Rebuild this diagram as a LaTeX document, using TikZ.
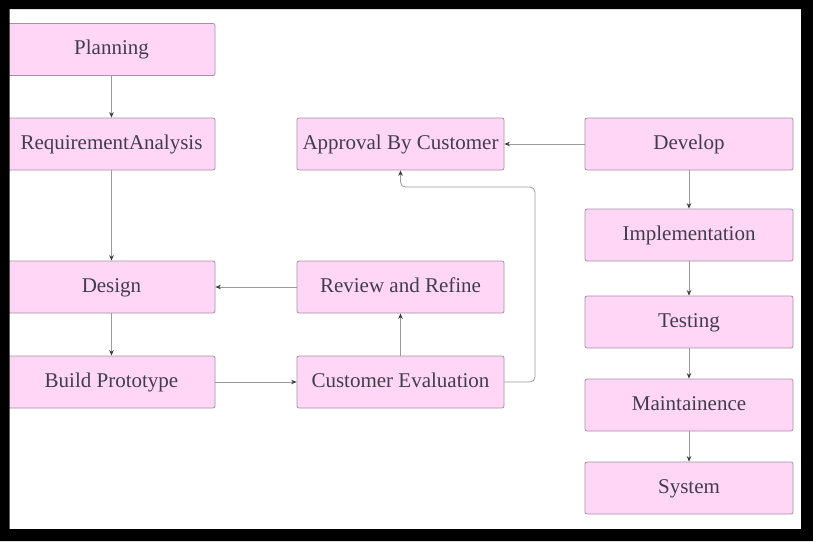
\documentclass[tikz,border=0pt]{standalone}
\usepackage{fontspec}
\setmainfont{Liberation Serif}
\usetikzlibrary{arrows.meta}
\definecolor{boxfill}{RGB}{255,214,245}
\definecolor{boxline}{RGB}{165,145,165}
\definecolor{txt}{RGB}{64,62,78}
\definecolor{flowline}{RGB}{155,155,155}
\definecolor{tipdark}{RGB}{60,60,70}
\tikzset{
  stage/.style={draw=boxline,fill=boxfill,rounded corners=2pt,line width=0.8pt,
    minimum width=207pt,minimum height=52pt,inner sep=0pt,text=txt,
    text height=14pt,text depth=4pt,
    font=\fontsize{21}{25}\selectfont},
  flow/.style={draw=flowline,line width=0.8pt,
    -{Stealth[length=5.5pt,width=4.5pt,color=tipdark]}}
}
\begin{document}
\begin{tikzpicture}[x=1pt,y=-1pt]
\useasboundingbox (0,0) rectangle (813,541);
\fill[white] (0,0) rectangle (813,541);
\node[stage] (plan) at (111.5,49.5) {Planning};
\node[stage] (req) at (111.5,144) {RequirementAnalysis};
\node[stage] (des) at (111.5,287) {Design};
\node[stage] (proto) at (111.5,382) {Build Prototype};
\node[stage] (appr) at (400.5,144) {Approval By Customer};
\node[stage] (rev) at (400.5,287) {Review and Refine};
\node[stage] (eval) at (400.5,382) {Customer Evaluation};
\node[stage,minimum width=208pt] (dev) at (689,144) {Develop};
\node[stage,minimum width=208pt] (impl) at (689,235) {Implementation};
\node[stage,minimum width=208pt] (test) at (689,322) {Testing};
\node[stage,minimum width=208pt] (maint) at (689,405) {Maintainence};
\node[stage,minimum width=208pt] (sys) at (689,488) {System};
\coordinate (bend) at (535,187);
\draw[flow] (plan)--(req);
\draw[flow] (req)--(des);
\draw[flow] (des)--(proto);
\draw[flow] (proto)--(eval);
\draw[flow] (eval)--(rev);
\draw[flow] (rev)--(des);
\draw[flow,rounded corners=5pt] (eval.east) -| (bend) -| (appr.south);
\draw[flow] (dev)--(appr);
\draw[flow] (dev)--(impl);
\draw[flow] (impl)--(test);
\draw[flow] (test)--(maint);
\draw[flow] (maint)--(sys);
\fill[black,even odd rule] (0,0) rectangle (813,541) (9.5,9) rectangle (801,529);
\end{tikzpicture}
\end{document}
